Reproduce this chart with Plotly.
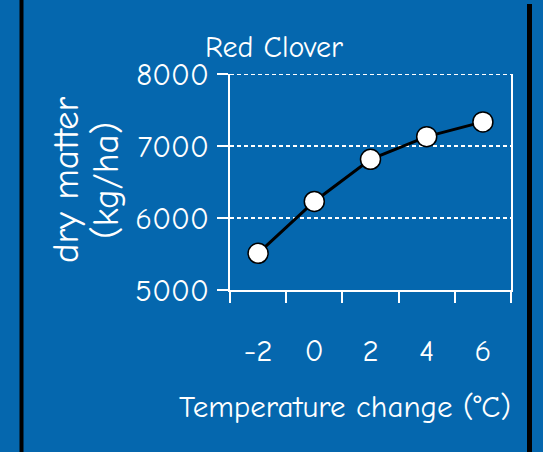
import plotly.graph_objects as go

categories = ["-2", "0", "2", "4", "6"]
dry_matter = [5510, 6230, 6815, 7130, 7335]
y_ticks = [5000, 6000, 7000, 8000]

BLUE = "#0567ae"
FONT = "Comic Sans MS, Comic Neue, Open Sans, sans-serif"
FS = 31

fig = go.Figure()
fig.add_trace(go.Scatter(
    x=categories, y=dry_matter, mode="lines+markers",
    line=dict(color="black", width=3),
    marker=dict(size=20, color="white", line=dict(color="black", width=1.5)),
    showlegend=False, cliponaxis=False,
))

W, H = 543, 452
L, R, T, B = 230, 511, 74, 290
pw, ph = R - L, B - T

def px(p):
    return (p - L) / pw

def py(p):
    return (B - p) / ph

fig.update_layout(
    width=W, height=H,
    margin=dict(l=L, r=W - R, t=T, b=H - B),
    paper_bgcolor=BLUE, plot_bgcolor=BLUE,
    font=dict(family=FONT, color="white", size=FS),
    title=dict(text="Red Clover", x=274 / W, xanchor="center", y=1 - 46 / H,
               yanchor="middle", font=dict(size=30, color="white")),
    xaxis=dict(
        type="category", range=[-0.5, 4.5], tickson="boundaries",
        showgrid=False, showline=True, linecolor="white", linewidth=2,
        ticks="outside", ticklen=11, tickwidth=1.5, tickcolor="white",
        tickfont=dict(size=FS), ticklabelstandoff=32,
        zeroline=False, fixedrange=True,
    ),
    yaxis=dict(
        range=[y_ticks[0], y_ticks[-1]], tickvals=y_ticks,
        showgrid=True, gridcolor="white", gridwidth=2, griddash="4px,3px",
        showline=True, linecolor="white", linewidth=2, mirror=True,
        ticks="outside", ticklen=11, tickwidth=1.5, tickcolor="white",
        tickfont=dict(size=FS), ticklabelstandoff=2,
        zeroline=False, fixedrange=True,
    ),
    annotations=[
        dict(text="Temperature change (°C)", xref="paper", yref="paper",
             x=px(345), y=py(407), xanchor="center", yanchor="middle",
             showarrow=False, font=dict(size=FS)),
        dict(text="dry matter", xref="paper", yref="paper", textangle=-90,
             x=px(66), y=py(180), xanchor="center", yanchor="middle",
             showarrow=False, font=dict(size=37)),
        dict(text="(kg/ha)", xref="paper", yref="paper", textangle=-90,
             x=px(106), y=py(181), xanchor="center", yanchor="middle",
             showarrow=False, font=dict(size=37)),
    ],
    shapes=[
        dict(type="line", xref="paper", yref="y", x0=0, x1=1,
             y0=y_ticks[-1], y1=y_ticks[-1],
             line=dict(color="white", width=2, dash="4px,3px")),
        dict(type="line", xref="paper", yref="paper", x0=px(21.5), x1=px(21.5),
             y0=-2, y1=2, line=dict(color="black", width=4)),
        dict(type="line", xref="paper", yref="paper", x0=px(529.5), x1=px(529.5),
             y0=-2, y1=py(4), line=dict(color="black", width=5)),
    ],
)

fig.write_html("out.html", config={"displayModeBar": False},
               post_script="document.body.style.margin='0';document.body.style.overflow='hidden';")
